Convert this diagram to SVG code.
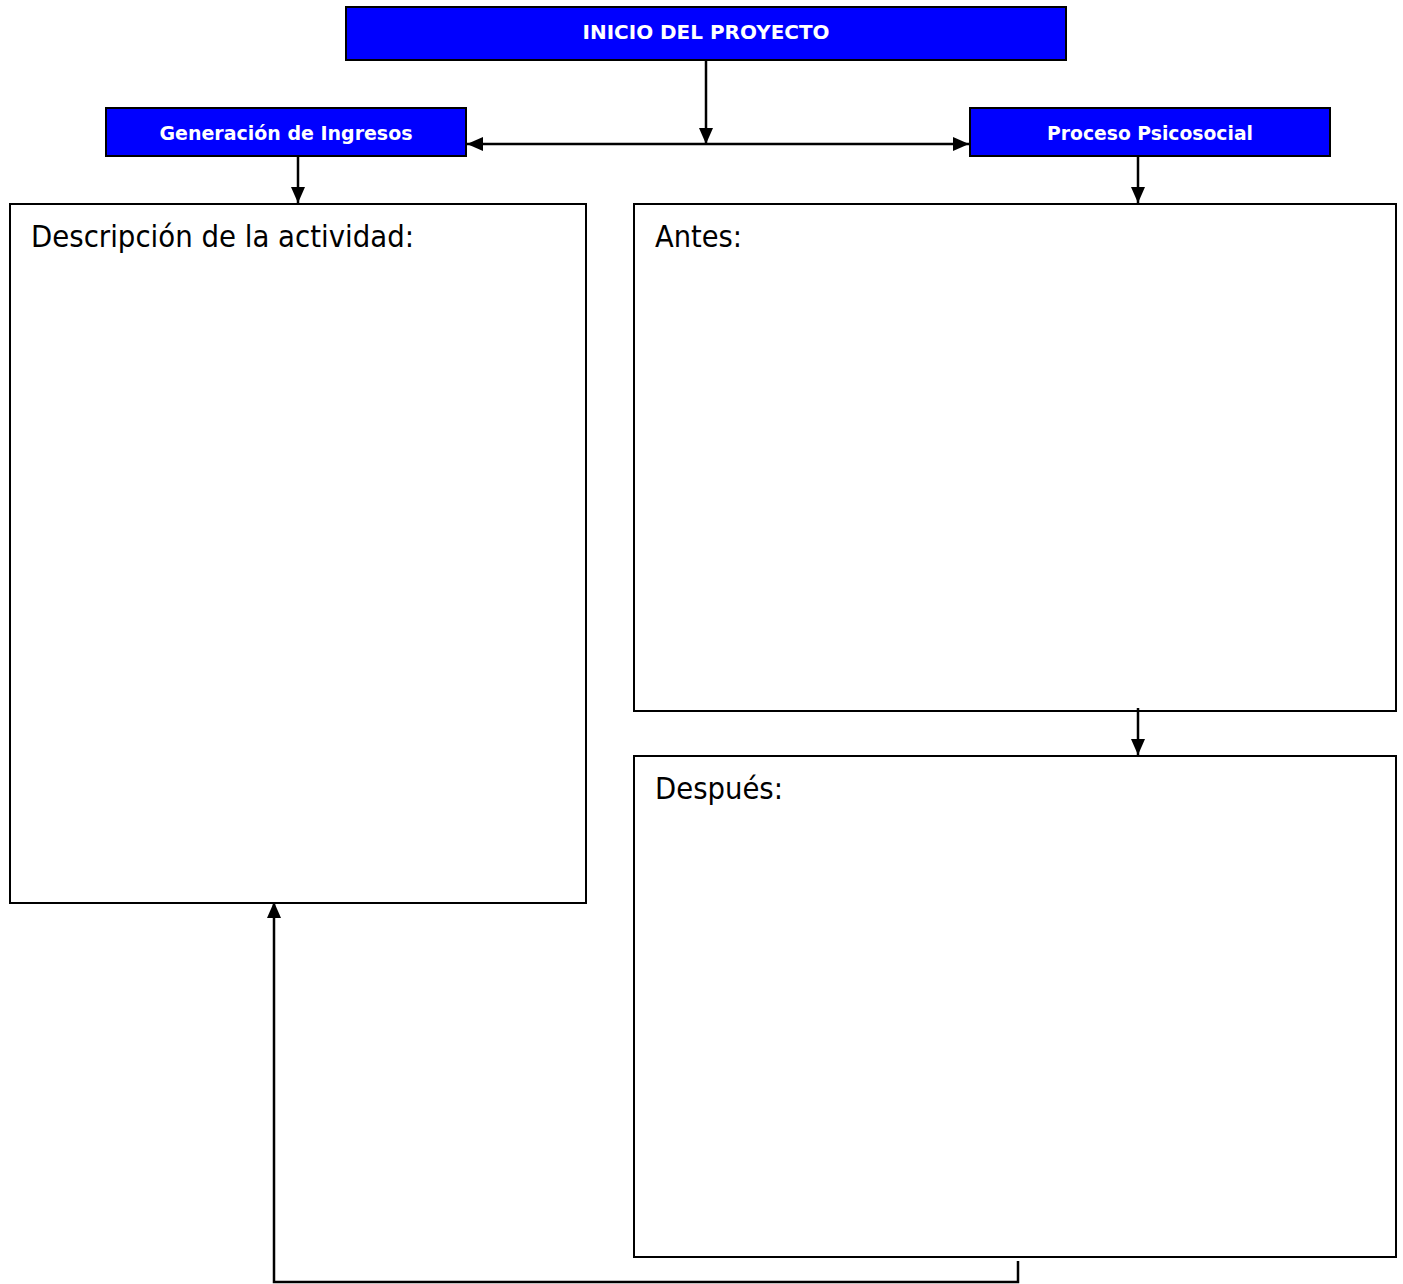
<svg xmlns="http://www.w3.org/2000/svg" width="1403" height="1284" viewBox="0 0 1403 1284">
<defs>
<marker id="ah" viewBox="0 0 16 14" refX="16" refY="7" markerWidth="16" markerHeight="14" markerUnits="userSpaceOnUse" orient="auto"><path d="M0,0 L16,7 L0,14 Z" fill="#000"/></marker>
<style>
.blue{fill:#0000FF;stroke:#000;stroke-width:2}
.box{fill:#fff;stroke:#000;stroke-width:2}
.hl{font-family:"DejaVu Sans",Verdana,sans-serif;font-weight:bold;fill:#fff;text-anchor:middle}
.lb{font-family:"DejaVu Sans",Verdana,sans-serif;font-size:30px;fill:#000}
.c{fill:none;stroke:#000;stroke-width:2.5}
</style>
</defs>
<rect width="1403" height="1284" fill="#fff"/>
<g id="inicio"><rect class="blue" x="346" y="7" width="720" height="53"/><text class="hl" x="706" y="39" font-size="20" textLength="247" lengthAdjust="spacingAndGlyphs">INICIO DEL PROYECTO</text></g>
<g id="generacion"><rect class="blue" x="106" y="108" width="360" height="48"/><text class="hl" x="286" y="140" font-size="20" textLength="253" lengthAdjust="spacingAndGlyphs">Generación de Ingresos</text></g>
<g id="proceso"><rect class="blue" x="970" y="108" width="360" height="48"/><text class="hl" x="1150" y="140" font-size="20" textLength="206" lengthAdjust="spacingAndGlyphs">Proceso Psicosocial</text></g>
<g id="descripcion"><rect class="box" x="10" y="204" width="576" height="699"/><text class="lb" x="31" y="247" textLength="383" lengthAdjust="spacingAndGlyphs">Descripción de la actividad:</text></g>
<g id="antes"><rect class="box" x="634" y="204" width="762" height="507"/><text class="lb" x="655" y="247" textLength="87" lengthAdjust="spacingAndGlyphs">Antes:</text></g>
<g id="despues"><rect class="box" x="634" y="756" width="762" height="501"/><text class="lb" x="655" y="799" textLength="128" lengthAdjust="spacingAndGlyphs">Después:</text></g>
<g id="connectors">
<line class="c" x1="706" y1="60" x2="706" y2="144" marker-end="url(#ah)"/>
<line class="c" x1="706" y1="144" x2="467" y2="144" marker-end="url(#ah)"/>
<line class="c" x1="706" y1="144" x2="969" y2="144" marker-end="url(#ah)"/>
<line class="c" x1="298" y1="156" x2="298" y2="203" marker-end="url(#ah)"/>
<line class="c" x1="1138" y1="156" x2="1138" y2="203" marker-end="url(#ah)"/>
<line class="c" x1="1138" y1="708" x2="1138" y2="755" marker-end="url(#ah)"/>
<polyline class="c" points="1018,1261 1018,1282 274,1282 274,902" marker-end="url(#ah)"/>
</g>
</svg>
